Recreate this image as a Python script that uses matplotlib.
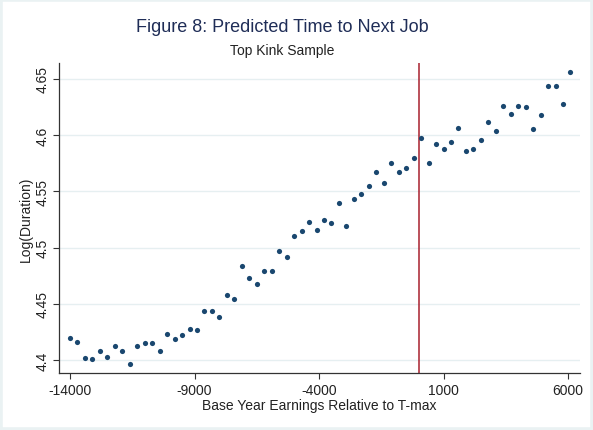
import numpy as np
import matplotlib.pyplot as plt
from matplotlib.patches import Rectangle

plt.rcParams['font.family'] = ['Liberation Sans', 'DejaVu Sans']

# -------------------- Data --------------------
# base year earnings relative to T-max (bins of 300)
earnings = np.arange(-14000, 6101, 300)
log_duration = [
    4.420, 4.416, 4.402, 4.401, 4.408, 4.403, 4.413, 4.408, 4.397, 4.413,
    4.415, 4.415, 4.408, 4.423, 4.419, 4.422, 4.428, 4.427, 4.444, 4.444,
    4.438, 4.458, 4.454, 4.484, 4.473, 4.468, 4.479, 4.479, 4.497, 4.492,
    4.510, 4.515, 4.523, 4.516, 4.525, 4.522, 4.540, 4.519, 4.543, 4.548,
    4.555, 4.567, 4.557, 4.575, 4.567, 4.571, 4.580, 4.597, 4.575, 4.592,
    4.588, 4.594, 4.606, 4.586, 4.588, 4.596, 4.612, 4.604, 4.626, 4.619,
    4.626, 4.625, 4.605, 4.618, 4.644, 4.644, 4.628, 4.656,
]
kink = 0
x_ticks = [-14000, -9000, -4000, 1000, 6000]
y_ticks = [4.4, 4.45, 4.5, 4.55, 4.6, 4.65]
y_tick_labels = ['4.4', '4.45', '4.5', '4.55', '4.6', '4.65']

# -------------------- Styling --------------------
navy = '#1a476f'
title_color = '#1f2d57'
grid_color = '#e6eff1'
line_color = '#a8202e'
axis_color = '#333333'

fig = plt.figure(figsize=(5.93, 4.31), dpi=100)
fig.patch.set_facecolor('white')
fig.patches.append(Rectangle((0, 0), 1, 1, transform=fig.transFigure,
                             fill=False, edgecolor='#eaf2f3', linewidth=4))

ax = fig.add_axes([0.100, 0.1323, 0.878, 0.7192])

ax.scatter(earnings, log_duration, s=14, color=navy, zorder=3, linewidths=0)
ax.axvline(kink, color=line_color, linewidth=1.1, zorder=2)

ax.set_xlim(-14430, 6480)
ax.set_ylim(4.3887, 4.664)
ax.set_xticks(x_ticks)
ax.set_xticklabels([str(t) for t in x_ticks], fontsize=10)
ax.set_yticks(y_ticks)
ax.set_yticklabels(y_tick_labels, fontsize=10, rotation=90, va='center')

ax.grid(axis='y', color=grid_color, linewidth=1.0, zorder=0)
for side in ['top', 'right']:
    ax.spines[side].set_visible(False)
for side in ['left', 'bottom']:
    ax.spines[side].set_color(axis_color)
    ax.spines[side].set_linewidth(0.9)
ax.tick_params(axis='both', direction='out', length=4, width=0.8,
               color=axis_color, labelcolor='#222222', pad=3)

ax.set_xlabel('Base Year Earnings Relative to T-max', fontsize=10,
              color='#222222', labelpad=1)
ax.set_ylabel('Log(Duration)', fontsize=10, color='#222222', labelpad=2)

fig.text(282 / 593, 1 - 27 / 431, 'Figure 8: Predicted Time to Next Job',
         ha='center', va='center', fontsize=13, color=title_color)
fig.text(282 / 593, 1 - 51 / 431, 'Top Kink Sample',
         ha='center', va='center', fontsize=10, color='#222222')

fig.savefig('out.png', dpi=100, facecolor=fig.get_facecolor())
